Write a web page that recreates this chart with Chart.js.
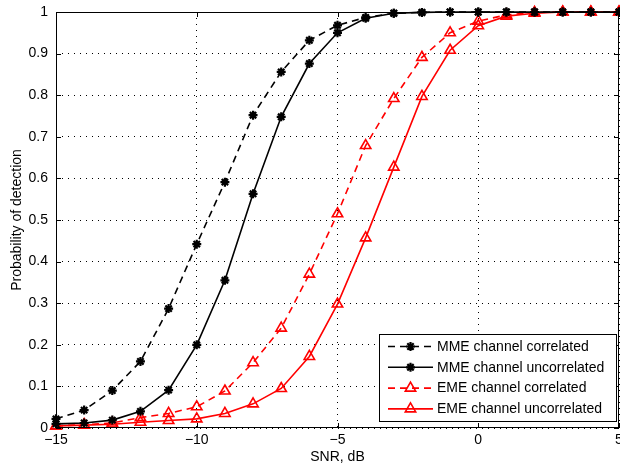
<!DOCTYPE html>
<html>
<head>
<meta charset="utf-8">
<script src="https://cdn.jsdelivr.net/npm/chart.js@4/dist/chart.umd.min.js"></script>
<style>
  html, body { margin: 0; padding: 0; background: #fff; }
  #wrap { width: 620px; height: 468px; }
</style>
</head>
<body>
<div id="wrap"><canvas id="chart" width="620" height="468"></canvas></div>
<script>
const snr = [-15, -14, -13, -12, -11, -10, -9, -8, -7, -6, -5, -4, -3, -2, -1, 0, 1, 2, 3, 4, 5];

const mmeCorrelated = [0.022, 0.043, 0.09, 0.16, 0.287, 0.442, 0.591, 0.752, 0.856, 0.932, 0.968, 0.987, 0.997, 0.999, 1, 1, 1, 1, 1, 1, 1];
const mmeUncorrelated = [0.01, 0.012, 0.019, 0.04, 0.091, 0.2, 0.355, 0.563, 0.748, 0.876, 0.95, 0.985, 0.997, 0.999, 1, 1, 1, 1, 1, 1, 1];
const emeCorrelated = [0.005, 0.008, 0.012, 0.025, 0.035, 0.051, 0.089, 0.157, 0.24, 0.37, 0.515, 0.679, 0.792, 0.891, 0.95, 0.978, 0.993, 0.999, 1, 1, 1];
const emeUncorrelated = [0.005, 0.007, 0.009, 0.014, 0.018, 0.022, 0.035, 0.058, 0.095, 0.172, 0.298, 0.457, 0.627, 0.797, 0.908, 0.967, 0.99, 0.997, 1, 1, 1];

const seriesNames = ['MME channel correlated', 'MME channel uncorrelated', 'EME channel correlated', 'EME channel uncorrelated'];
const xTicks = [-15, -10, -5, 0, 5];
const yTicks = [0, 0.1, 0.2, 0.3, 0.4, 0.5, 0.6, 0.7, 0.8, 0.9, 1];

const FONT = 'Liberation Sans, Arial, Helvetica, sans-serif';
const FONT_SIZE = 14;

function toPoints(vals) {
  return vals.map((v, i) => ({ x: snr[i], y: v }));
}

function makeSet(label, vals, color, dashed, style) {
  const isStar = style === 'star';
  return {
    label: label,
    data: toPoints(vals),
    borderColor: color,
    backgroundColor: color,
    borderWidth: 1.6,
    borderDash: dashed ? [7, 5] : [],
    pointStyle: style,
    pointRadius: isStar ? 4.5 : 6,
    pointBorderWidth: isStar ? 2.2 : 1.6,
    pointBackgroundColor: isStar ? color : 'rgba(0,0,0,0)',
    pointBorderColor: color,
    tension: 0,
    clip: false
  };
}

// frame box with inward ticks, MATLAB style
const framePlugin = {
  id: 'frame',
  afterDraw(chart) {
    const { ctx, chartArea: a, scales } = chart;
    ctx.save();
    ctx.strokeStyle = '#000';
    ctx.lineWidth = 1;
    ctx.strokeRect(a.left + 0.5, a.top + 0.5, a.right - a.left - 1, a.bottom - a.top - 1);
    const len = 5;
    ctx.beginPath();
    xTicks.forEach(t => {
      const px = Math.round(scales.x.getPixelForValue(t)) + 0.5;
      ctx.moveTo(px, a.bottom); ctx.lineTo(px, a.bottom - len);
      ctx.moveTo(px, a.top); ctx.lineTo(px, a.top + len);
    });
    yTicks.forEach(t => {
      const py = Math.round(scales.y.getPixelForValue(t)) + 0.5;
      ctx.moveTo(a.left, py); ctx.lineTo(a.left + len, py);
      ctx.moveTo(a.right, py); ctx.lineTo(a.right - len, py);
    });
    ctx.stroke();
    ctx.restore();
  }
};

// legend box in the lower right corner of the axes
const legendBoxPlugin = {
  id: 'legendBox',
  afterDraw(chart) {
    const { ctx, chartArea: a } = chart;
    const w = 237, rowH = 20.8, h = 87;
    const right = a.right - 3, bottom = a.bottom - 7;
    const left = right - w, top = bottom - h;
    ctx.save();
    ctx.fillStyle = '#fff';
    ctx.fillRect(left, top, w, h);
    ctx.strokeStyle = '#000';
    ctx.lineWidth = 1;
    ctx.strokeRect(Math.round(left) + 0.5, Math.round(top) + 0.5, Math.round(w), Math.round(h));
    ctx.font = FONT_SIZE + 'px ' + FONT;
    ctx.textBaseline = 'middle';
    chart.data.datasets.forEach((ds, i) => {
      const y = top + 12.5 + i * rowH;
      const x0 = left + 9, x1 = left + 54;
      ctx.strokeStyle = ds.borderColor;
      ctx.lineWidth = ds.borderWidth;
      ctx.setLineDash(ds.borderDash);
      ctx.beginPath();
      ctx.moveTo(x0, y); ctx.lineTo(x1, y);
      ctx.stroke();
      ctx.setLineDash([]);
      ctx.fillStyle = ds.pointBackgroundColor;
      ctx.strokeStyle = ds.pointBorderColor;
      ctx.lineWidth = ds.pointBorderWidth;
      Chart.helpers.drawPoint(ctx, {
        pointStyle: ds.pointStyle,
        radius: ds.pointRadius,
        rotation: 0,
        borderWidth: ds.pointBorderWidth
      }, (x0 + x1) / 2, y);
      ctx.fillStyle = '#000';
      ctx.fillText(ds.label, left + 58, y + 0.5);
    });
    ctx.restore();
  }
};

const ctx = document.getElementById('chart').getContext('2d');
new Chart(ctx, {
  type: 'line',
  data: {
    datasets: [
      makeSet(seriesNames[0], mmeCorrelated, '#000000', true, 'star'),
      makeSet(seriesNames[1], mmeUncorrelated, '#000000', false, 'star'),
      makeSet(seriesNames[2], emeCorrelated, '#ff0000', true, 'triangle'),
      makeSet(seriesNames[3], emeUncorrelated, '#ff0000', false, 'triangle')
    ]
  },
  options: {
    responsive: false,
    animation: false,
    layout: { autoPadding: false, padding: { top: 12, right: 1, left: 0, bottom: 0 } },
    plugins: {
      legend: { display: false },
      tooltip: { enabled: false }
    },
    scales: {
      x: {
        type: 'linear',
        min: -15,
        max: 5,
        afterBuildTicks: scale => { scale.ticks = xTicks.map(v => ({ value: v })); },
        afterFit: scale => {
          scale.height = 40;
          scale.paddingLeft = 0;
          scale.paddingRight = 0;
        },
        grid: { color: '#000', lineWidth: 1, drawTicks: false },
        border: { display: false, dash: [1, 5] },
        ticks: {
          padding: 4,
          color: '#000',
          font: { family: FONT, size: FONT_SIZE },
          callback: v => (v < 0 ? '\u2212' + Math.abs(v) : String(v))
        },
        title: {
          display: true,
          text: 'SNR, dB',
          color: '#000',
          font: { family: FONT, size: FONT_SIZE },
          padding: { top: 0, bottom: 2 }
        }
      },
      y: {
        type: 'linear',
        min: 0,
        max: 1,
        afterBuildTicks: scale => { scale.ticks = yTicks.map(v => ({ value: v })); },
        afterFit: scale => {
          scale.width = 56;
          scale.paddingTop = 0;
          scale.paddingBottom = 0;
        },
        grid: { color: '#000', lineWidth: 1, drawTicks: false },
        border: { display: false, dash: [1, 5] },
        ticks: {
          padding: 8,
          color: '#000',
          font: { family: FONT, size: FONT_SIZE },
          callback: v => String(Math.round(v * 10) / 10)
        },
        title: {
          display: true,
          text: 'Probability of detection',
          color: '#000',
          font: { family: FONT, size: FONT_SIZE },
          padding: { top: 9, bottom: 0 }
        }
      }
    }
  },
  plugins: [framePlugin, legendBoxPlugin]
});
</script>
</body>
</html>
